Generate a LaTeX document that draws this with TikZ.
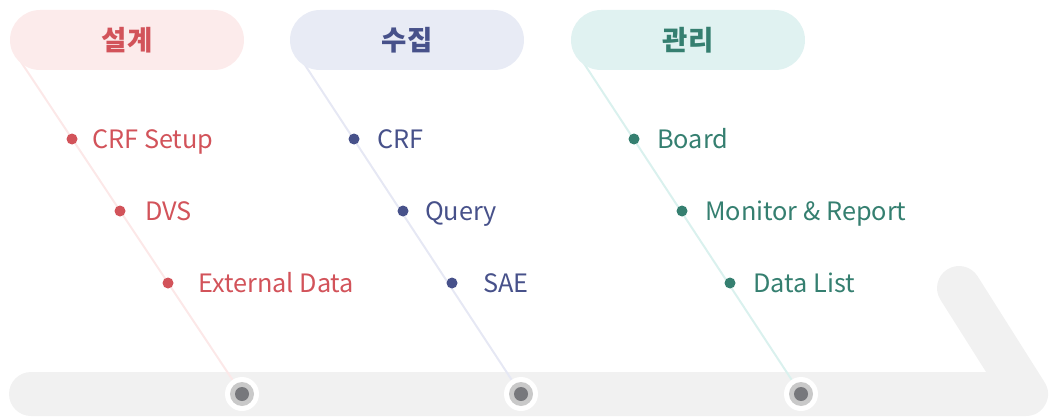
\documentclass[tikz,border=0pt]{standalone}
\usepackage{fontspec}
\setmainfont{Noto Sans CJK KR}
\definecolor{redT}{HTML}{D2535A}
\definecolor{redP}{HTML}{FCEBEB}
\definecolor{redL}{HTML}{FCE8E8}
\definecolor{bluT}{HTML}{47518A}
\definecolor{bluP}{HTML}{E8EBF5}
\definecolor{bluL}{HTML}{E6E8F4}
\definecolor{grnT}{HTML}{357F70}
\definecolor{grnP}{HTML}{E0F2F1}
\definecolor{grnL}{HTML}{DAF1EE}
\definecolor{barG}{HTML}{F1F1F1}
\definecolor{ringG}{HTML}{C9C9C9}
\definecolor{dotD}{HTML}{77787C}
\tikzset{
  pill/.style={rounded corners=30pt, minimum width=234pt, minimum height=60pt, inner sep=0pt,
    font=\fontsize{27.5}{30}\selectfont\bfseries},
  bullet/.style={circle, inner sep=0pt, minimum size=11pt},
  lbl/.style={anchor=base west, inner sep=0pt, font=\fontsize{25.3}{30}\selectfont},
  bone/.style={line width=2pt},
  hub/.style={circle, fill=white, inner sep=0pt, minimum size=34pt},
}
\begin{document}
\begin{tikzpicture}[x=1pt,y=-1pt]
\useasboundingbox (0,0) rectangle (1054,417);
% spine
\coordinate (b0) at (31,394);
\coordinate (b1) at (1026,394);
\coordinate (b2) at (959,288);
\draw[barG, line width=44pt, line cap=round, line join=round] (b0) -- (b1) -- (b2);
% anchor points
\coordinate (s1) at (21,62);
\coordinate (s2) at (303,62);
\coordinate (s3) at (583,62);
\coordinate (h1) at (242,394);
\coordinate (h2) at (521,394);
\coordinate (h3) at (801,394);
\draw[bone, redL] (s1) -- (h1);
\draw[bone, bluL] (s2) -- (h2);
\draw[bone, grnL] (s3) -- (h3);
% pills
\node[pill, fill=redP, text=redT] (p1) at (127,40) {설계};
\node[pill, fill=bluP, text=bluT] (p2) at (407,40) {수집};
\node[pill, fill=grnP, text=grnT] (p3) at (688,40) {관리};
% hubs
\foreach \h in {h1,h2,h3}{
  \node[hub] (\h n) at (\h) {};
  \fill[ringG] (\h n.center) circle (12);
  \fill[dotD] (\h n.center) circle (7);
}
% bullets red
\node[bullet, fill=redT] (r1) at (72,139) {};
\node[bullet, fill=redT] (r2) at (120,211) {};
\node[bullet, fill=redT] (r3) at (168,283) {};
\node[lbl, text=redT] (rl1) at (92,148) {CRF Setup};
\node[lbl, text=redT] (rl2) at (145,220) {DVS};
\node[lbl, text=redT] (rl3) at (198,292) {External Data};
% bullets blue
\node[bullet, fill=bluT] (u1) at (354,139) {};
\node[bullet, fill=bluT] (u2) at (403,211) {};
\node[bullet, fill=bluT] (u3) at (452,283) {};
\node[lbl, text=bluT] (ul1) at (377,148) {CRF};
\node[lbl, text=bluT] (ul2) at (425,220) {Query};
\node[lbl, text=bluT] (ul3) at (483,292) {SAE};
% bullets green
\node[bullet, fill=grnT] (g1) at (634,139) {};
\node[bullet, fill=grnT] (g2) at (682,211) {};
\node[bullet, fill=grnT] (g3) at (730,283) {};
\node[lbl, text=grnT] (gl1) at (657,148) {Board};
\node[lbl, text=grnT] (gl2) at (705,220) {Monitor \& Report};
\node[lbl, text=grnT] (gl3) at (753,292) {Data List};
\end{tikzpicture}
\end{document}
